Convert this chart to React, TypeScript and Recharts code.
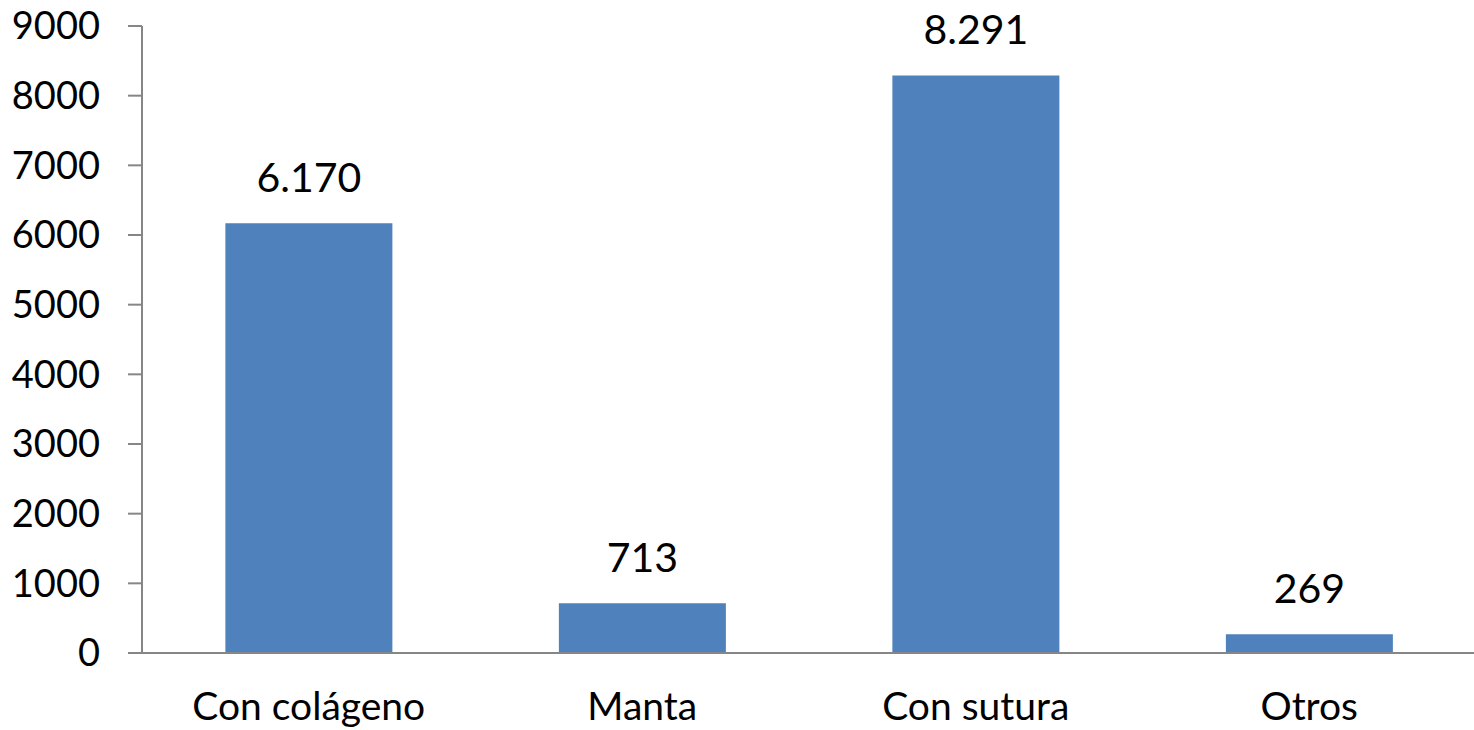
// Bar chart: Con colágeno / Manta / Con sutura / Otros
import { BarChart, Bar, XAxis, YAxis, LabelList } from 'recharts';

const categories = ['Con colágeno', 'Manta', 'Con sutura', 'Otros'];
const values = [6170, 713, 8291, 269];
const yTicks = [0, 1000, 2000, 3000, 4000, 5000, 6000, 7000, 8000, 9000];
// category boundaries, where the x-axis tick marks sit
const edgeTicks = [0, 1, 2, 3, 4];

const data = categories.map((name, i) => ({ name, value: values[i] }));

const FONT = 'Lato, "Open Sans", sans-serif';
const AXIS = '#868686';

// 6170 -> "6.170" (Spanish thousands separator)
const fmt = (v: number) => String(v).replace(/\B(?=(\d{3})+(?!\d))/g, '.');

export default function App() {
  return (
    <div style={{ position: 'absolute', left: 0, top: 0, width: 1474, height: 730, background: '#fff' }}>
      <BarChart
        width={1474}
        height={730}
        data={data}
        margin={{ top: 26, right: -2, bottom: 0, left: 0 }}
        barCategoryGap="25%"
      >
        {/* tick marks between categories only */}
        <XAxis
          xAxisId="edges"
          type="number"
          domain={[0, 4]}
          allowDataOverflow
          ticks={edgeTicks}
          interval={0}
          height={0}
          axisLine={false}
          tickSize={14}
          tickLine={{ stroke: AXIS, strokeWidth: 2 }}
          tickFormatter={() => ''}
        />
        <XAxis
          dataKey="name"
          height={77}
          tickSize={14}
          tickMargin={25}
          interval={0}
          tickLine={false}
          tick={{ fontSize: 39, fill: '#000', fontFamily: FONT }}
          axisLine={{ stroke: AXIS, strokeWidth: 2 }}
        />
        <YAxis
          width={142}
          domain={[0, 9000]}
          ticks={yTicks}
          interval={0}
          tickSize={14}
          tickMargin={28}
          tick={{ fontSize: 38, fill: '#000', fontFamily: FONT }}
          axisLine={{ stroke: AXIS, strokeWidth: 2 }}
          tickLine={{ stroke: AXIS, strokeWidth: 2 }}
        />
        <Bar dataKey="value" fill="#4F81BD" isAnimationActive={false}>
          <LabelList
            dataKey="value"
            position="top"
            offset={31}
            formatter={(v: any) => fmt(Number(v))}
            style={{ fontSize: 41, fill: '#000', fontFamily: FONT }}
          />
        </Bar>
      </BarChart>
    </div>
  );
}
